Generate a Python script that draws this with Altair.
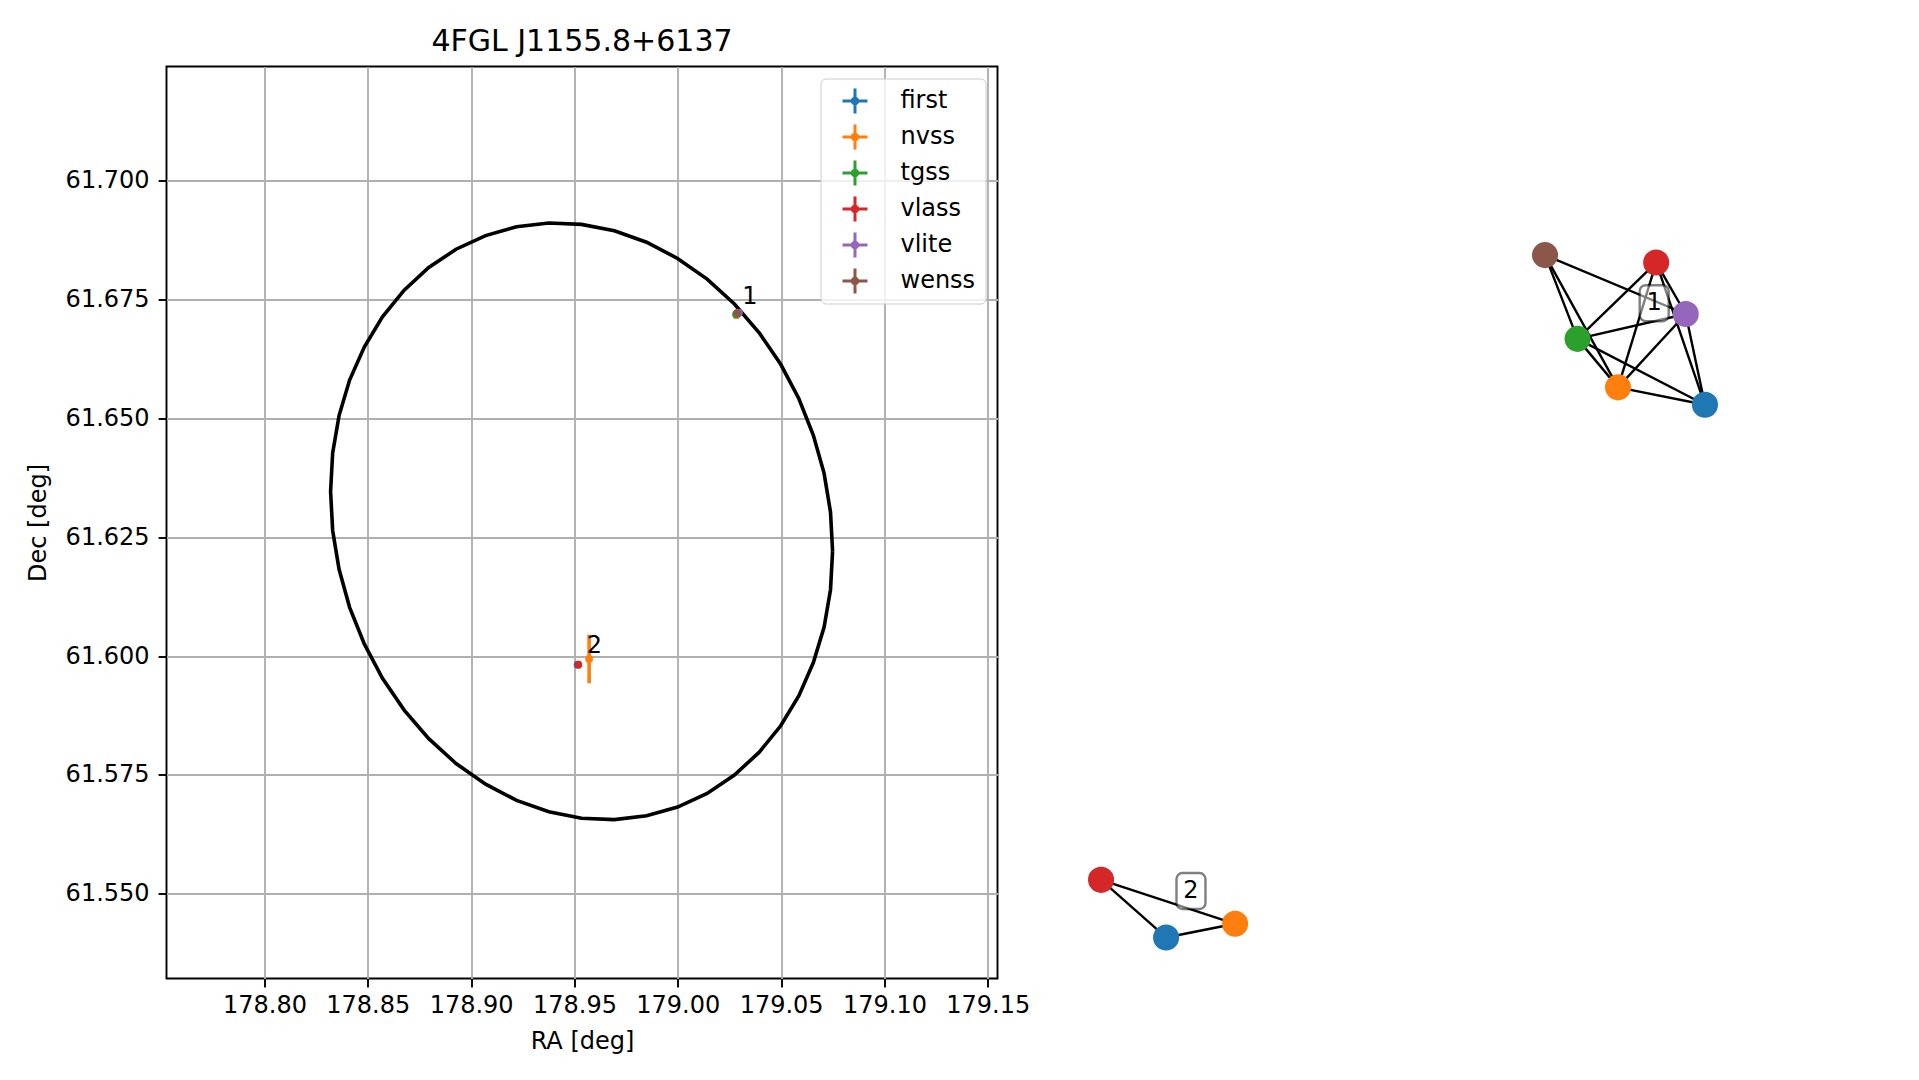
import altair as alt
import pandas as pd

# ---------------- data ----------------
surveys = ["first", "nvss", "tgss", "vlass", "vlite", "wenss"]
palette = ["#1f77b4", "#ff7f0e", "#2ca02c", "#d62728", "#9467bd", "#8c564b"]

# radio sources (drawn survey by survey, as in the original)
src_survey = ["first", "first", "nvss", "nvss", "tgss", "vlass", "vlass", "vlite", "wenss"]
src_cluster = [1, 2, 1, 2, 1, 1, 2, 1, 1]
src_ra = [179.0288, 178.9515, 179.0284, 178.9571, 179.0282, 179.0289, 178.9519, 179.0296, 179.0289]
src_dec = [61.6721, 61.5982, 61.6717, 61.5994, 61.6719, 61.6722, 61.5982, 61.6722, 61.6721]
src_ra_err = [0.0002, 0.0003, 0.0004, 0.0006, 0.0005, 0.0001, 0.0001, 0.0004, 0.0005]
src_dec_err = [0.0001, 0.0002, 0.0003, 0.0051, 0.0003, 0.0001, 0.0001, 0.0003, 0.0004]

# 4FGL error ellipse outline (vertices)
ell_ra = [179.0749, 179.0739, 179.0708, 179.0656, 179.0586, 179.0498, 179.0393, 179.0274,
          179.0142, 178.9999, 178.9849, 178.9693, 178.9534, 178.9376, 178.9220, 178.9070,
          178.8927, 178.8795, 178.8676, 178.8571, 178.8483, 178.8412, 178.8361, 178.8330,
          178.8320, 178.8330, 178.8361, 178.8412, 178.8483, 178.8571, 178.8676, 178.8795,
          178.8927, 178.9070, 178.9220, 178.9376, 178.9534, 178.9693, 178.9849, 178.9999,
          179.0142, 179.0274, 179.0393, 179.0498, 179.0586, 179.0656, 179.0708, 179.0739]
ell_dec = [61.62206, 61.61397, 61.60612, 61.59865, 61.59169, 61.58535, 61.57975, 61.57498,
           61.57113, 61.56826, 61.56641, 61.56562, 61.56591, 61.56727, 61.56966, 61.57307,
           61.57742, 61.58264, 61.58864, 61.59533, 61.60257, 61.61026, 61.61826, 61.62643,
           61.63464, 61.64273, 61.65058, 61.65805, 61.66501, 61.67135, 61.67695, 61.68172,
           61.68557, 61.68844, 61.69029, 61.69108, 61.69079, 61.68944, 61.68704, 61.68363,
           61.67928, 61.67406, 61.66806, 61.66137, 61.65413, 61.64644, 61.63844, 61.63027]

x_ticks = [178.80, 178.85, 178.90, 178.95, 179.00, 179.05, 179.10, 179.15]
y_ticks = [61.550, 61.575, 61.600, 61.625, 61.650, 61.675, 61.700]

# match graph (layout coordinates)
node_group = [1, 1, 1, 1, 1, 1, 2, 2, 2]
node_survey = ["wenss", "vlass", "vlite", "tgss", "nvss", "first", "vlass", "first", "nvss"]
node_x = [0.422, 0.757, 0.846, 0.520, 0.642, 0.904, -0.916, -0.720, -0.512]
node_y = [0.645, 0.627, 0.503, 0.443, 0.326, 0.284, -0.862, -1.001, -0.968]

edge_group = [1, 1, 1, 1, 1, 1, 1, 1, 1, 1, 1, 1, 1, 2, 2, 2]
edge_a = ["wenss", "wenss", "wenss", "vlass", "vlass", "vlass", "vlass", "tgss", "tgss",
          "tgss", "vlite", "vlite", "nvss", "vlass", "vlass", "first"]
edge_b = ["vlite", "tgss", "nvss", "tgss", "nvss", "vlite", "first", "vlite", "nvss",
          "first", "nvss", "first", "first", "first", "nvss", "nvss"]

label_group = ["1", "2"]
label_x = [0.751, -0.645]
label_y = [0.529, -0.889]

# ---------------- tables ----------------
src = pd.DataFrame({"survey": src_survey, "cluster": src_cluster, "ra": src_ra,
                    "dec": src_dec, "ra_err": src_ra_err, "dec_err": src_dec_err})
src["order"] = range(len(src))
src["ra_lo"] = src["ra"] - src["ra_err"]
src["ra_hi"] = src["ra"] + src["ra_err"]
src["dec_lo"] = src["dec"] - src["dec_err"]
src["dec_hi"] = src["dec"] + src["dec_err"]

clus = src.groupby("cluster", as_index=False)[["ra", "dec"]].mean()
clus["name"] = clus["cluster"].astype(str)

ell = pd.DataFrame({"ra": ell_ra + ell_ra[:1], "dec": ell_dec + ell_dec[:1]})
ell["idx"] = range(len(ell))

nodes = pd.DataFrame({"group": node_group, "survey": node_survey, "x": node_x, "y": node_y})
edges = pd.DataFrame({"group": edge_group, "a": edge_a, "b": edge_b})
edges = edges.merge(nodes.rename(columns={"survey": "a"}), on=["group", "a"])
edges = edges.merge(nodes.rename(columns={"survey": "b", "x": "x2", "y": "y2"}), on=["group", "b"])
labels = pd.DataFrame({"name": label_group, "x": label_x, "y": label_y})

# ---------------- left panel ----------------
FONT = "DejaVu Sans"
xs = alt.Scale(domain=[178.7526, 179.1547], nice=False, zero=False)
ys = alt.Scale(domain=[61.5322, 61.7240], nice=False, zero=False)
axis_style = dict(labelFont=FONT, labelFontSize=24, labelColor="black",
                  titleFont=FONT, titleFontSize=24, titleFontWeight="normal", titleColor="black",
                  tickColor="black", tickWidth=1.9, tickSize=8.4,
                  gridColor="#b0b0b0", gridWidth=1.9, gridOpacity=1, domain=False,
                  labelFlush=False, labelOverlap=False, grid=True)
xax = alt.Axis(values=x_ticks, format=".2f", title="RA [deg]",
               labelPadding=7, titlePadding=12, **axis_style)
yax = alt.Axis(values=y_ticks, format=".3f", title="Dec [deg]",
               labelPadding=9, titlePadding=14.5, **axis_style)

cross_path = ("M-1,-0.12H1V0.12H-1Z M-0.12,-1H0.12V1H-0.12Z "
              "M0.34,0A0.34,0.34 0 1,1 -0.34,0A0.34,0.34 0 1,1 0.34,0Z")

ellipse = alt.Chart(ell).mark_line(color="black", strokeWidth=3.6).encode(
    x=alt.X("ra:Q", scale=xs, axis=xax),
    y=alt.Y("dec:Q", scale=ys, axis=yax),
    order="idx:Q",
)

stroke_scale = alt.Scale(domain=surveys, range=palette)
hbars = alt.Chart(src).mark_rule(strokeWidth=3.6).encode(
    x=alt.X("ra_lo:Q", scale=xs, axis=xax),
    x2="ra_hi:Q",
    y=alt.Y("dec:Q", scale=ys, axis=yax),
    stroke=alt.Stroke("survey:N", scale=stroke_scale, legend=None),
    order="order:Q",
)
vbars = alt.Chart(src).mark_rule(strokeWidth=3.6).encode(
    x=alt.X("ra:Q", scale=xs, axis=xax),
    y=alt.Y("dec_lo:Q", scale=ys, axis=yax),
    y2="dec_hi:Q",
    stroke=alt.Stroke("survey:N", scale=stroke_scale, legend=None),
    order="order:Q",
)
points = alt.Chart(src).mark_circle(size=60, opacity=1).encode(
    x=alt.X("ra:Q", scale=xs, axis=xax),
    y=alt.Y("dec:Q", scale=ys, axis=yax),
    color=alt.Color("survey:N", scale=alt.Scale(domain=surveys, range=palette),
                    legend=alt.Legend(title=None, orient="top-right", offset=12,
                                      symbolType=cross_path, symbolSize=625,
                                      symbolStrokeWidth=0, symbolOpacity=1,
                                      symbolOffset=12, labelOffset=33,
                                      labelFont=FONT, labelFontSize=24, labelColor="black",
                                      rowPadding=11, padding=10,
                                      fillColor="rgba(255,255,255,0.8)",
                                      strokeColor="#cccccc", cornerRadius=5)),
    order="order:Q",
)
clabels = alt.Chart(clus).mark_text(align="left", baseline="alphabetic", dx=5, dy=-10,
                                    fontSize=24, font=FONT, color="black").encode(
    x=alt.X("ra:Q", scale=xs, axis=xax),
    y=alt.Y("dec:Q", scale=ys, axis=yax),
    text="name:N",
)

left = alt.layer(ellipse, hbars, vbars, points, clabels).properties(
    width=831, height=912,
    title=alt.TitleParams("4FGL J1155.8+6137", fontSize=30, font=FONT,
                          fontWeight="normal", color="black", anchor="middle",
                          baseline="alphabetic", offset=-14),
    view=alt.ViewBackground(stroke="black", strokeWidth=1.9),
)

# ---------------- right panel (match graph) ----------------
gx = alt.Scale(domain=[-1.1, 1.1], nice=False, zero=False)
gy = alt.Scale(domain=[-1.1, 1.1], nice=False, zero=False)

g_edges = alt.Chart(edges).mark_rule(color="black", strokeWidth=2.4).encode(
    x=alt.X("x:Q", scale=gx, axis=None), y=alt.Y("y:Q", scale=gy, axis=None),
    x2="x2:Q", y2="y2:Q",
)
g_nodes = alt.Chart(nodes).mark_circle(size=680, opacity=1).encode(
    x=alt.X("x:Q", scale=gx, axis=None), y=alt.Y("y:Q", scale=gy, axis=None),
    color=alt.Color("survey:N", scale=alt.Scale(domain=surveys, range=palette), legend=None),
)
g_boxes = alt.Chart(labels).mark_rect(width=29, height=36, cornerRadius=6, fill="white",
                                      fillOpacity=0.5, stroke="black", strokeOpacity=0.5,
                                      strokeWidth=2.4).encode(
    x=alt.X("x:Q", scale=gx, axis=None), y=alt.Y("y:Q", scale=gy, axis=None),
)
g_text = alt.Chart(labels).mark_text(fontSize=24, font=FONT, color="black",
                                     align="center", baseline="middle").encode(
    x=alt.X("x:Q", scale=gx, axis=None), y=alt.Y("y:Q", scale=gy, axis=None),
    text="name:N",
)
right = alt.layer(g_edges, g_nodes, g_boxes, g_text).properties(
    width=730, height=912,
    view=alt.ViewBackground(stroke="transparent"),
)

chart = alt.hconcat(left, right, spacing=42.5, bounds="flush", background="white",
                    padding={"left": 17.5, "top": 17.5, "right": 5, "bottom": 5}).resolve_scale(
    color="independent").resolve_legend(color="independent")

chart.save("out.html", embed_options={"renderer": "svg", "actions": False})
